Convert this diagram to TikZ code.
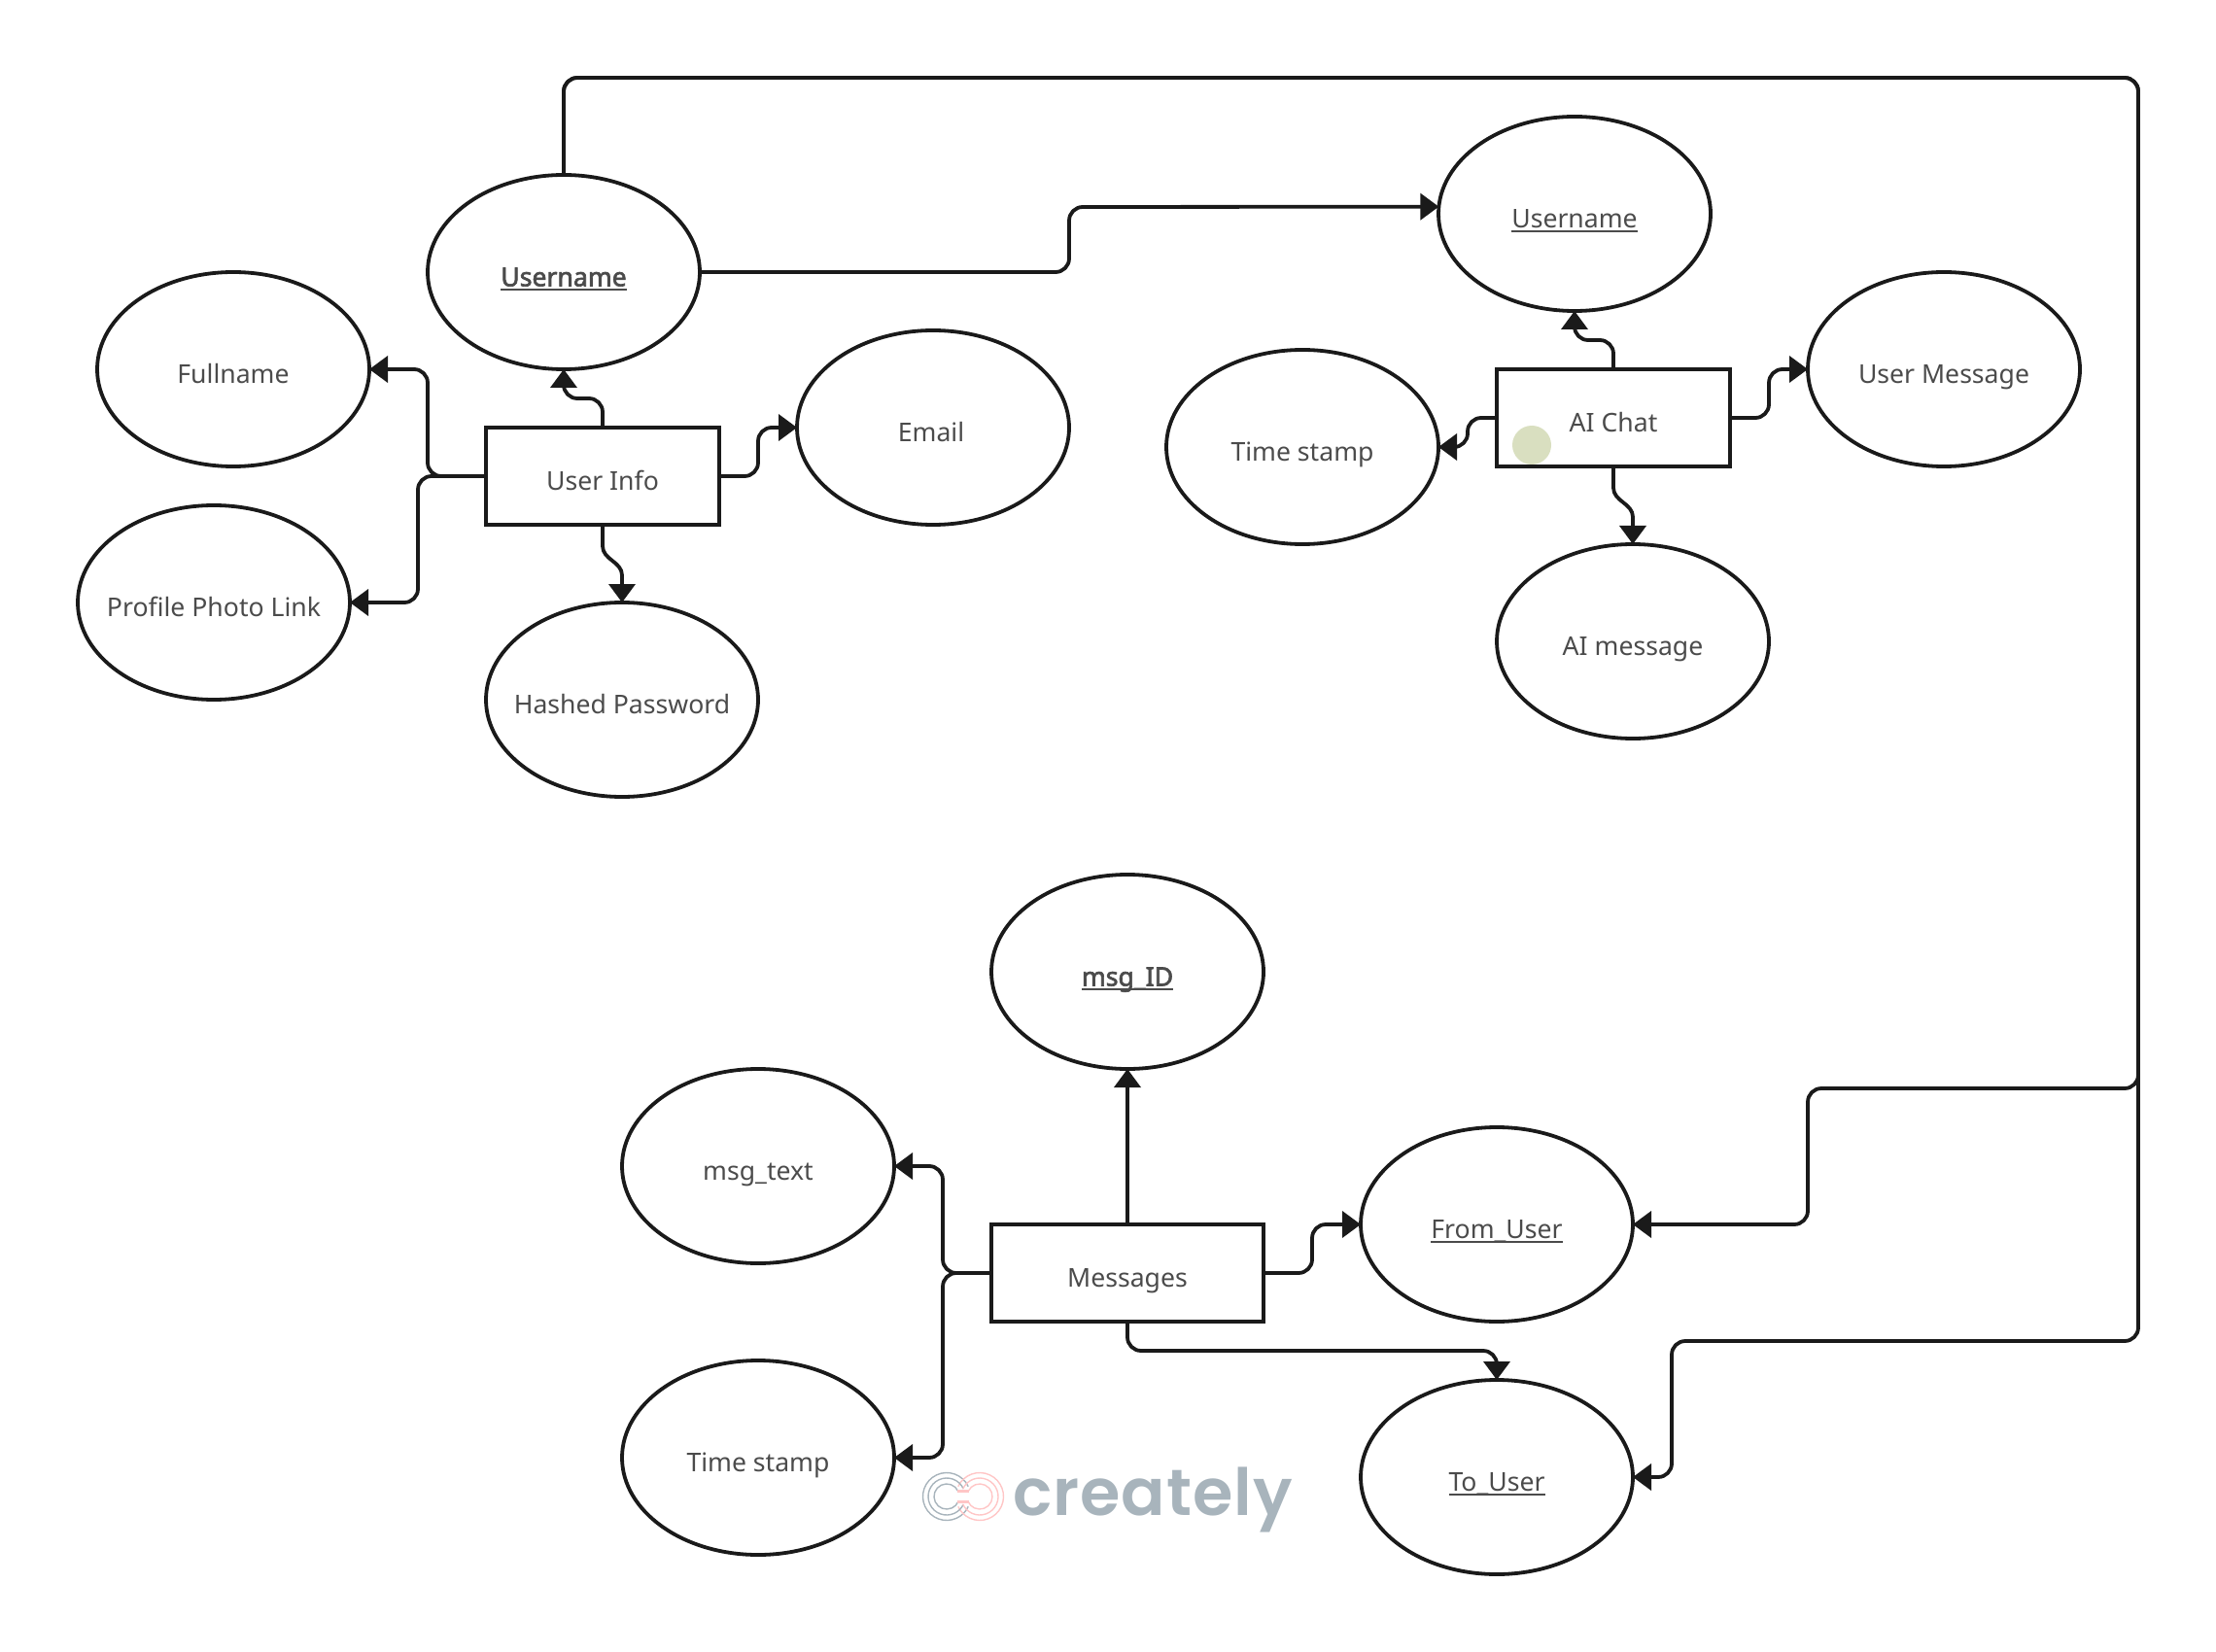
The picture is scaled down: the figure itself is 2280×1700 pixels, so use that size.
\documentclass[tikz,border=0pt]{standalone}
\usepackage{fontspec}
\setmainfont{Noto Sans}
\newfontfamily\keyfont[FakeBold=2.5]{Noto Sans}
\newfontfamily\brandfont[LetterSpace=1.5]{Poppins SemiBold}
\usetikzlibrary{arrows.meta,shapes.geometric}
\definecolor{inkline}{HTML}{1A1A1A}
\definecolor{inktext}{HTML}{4B4B4B}
\definecolor{brandgray}{HTML}{A8B4BC}
\definecolor{brandpink}{HTML}{FFC6C6}
\definecolor{dotgreen}{HTML}{D9DFC0}
\newlength\keywd
\newcommand{\keyline}[1]{\settowidth{\keywd}{#1}\rlap{\rule[-2.1pt]{\keywd}{0.8pt}}#1}
\begin{document}
\begin{tikzpicture}[
  x=0.5pt,y=-0.5pt,
  every node/.style={text=inktext,font=\fontsize{13.3}{15}\selectfont,inner sep=0pt,outer sep=0pt,
                     text height=14.5pt,text depth=0pt},
  attr/.style={ellipse,draw=inkline,line width=1.9pt,minimum width=140pt,minimum height=100pt,
               inner xsep=-10pt},
  ent/.style={rectangle,draw=inkline,line width=1.9pt,minimum height=50pt},
  conn/.style={draw=inkline,line width=1.9pt,rounded corners=7pt,line join=round,
               -{Triangle[length=9.5pt,width=13.5pt]}},
  wave/.style={conn,sharp corners}
  ]
  \useasboundingbox (0,0) rectangle (2280,1700);
  % user info
  \node [ent,minimum width=120pt] (userinfo) at (620,490) {User Info};
  \node [attr] (username) at (580,280) {\keyfont\keyline{Username}};
  \node [attr] (fullname) at (240,380) {Fullname};
  \node [attr] (photo) at (220,620) {Profile Photo Link};
  \node [attr] (email) at (960,440) {\hspace{-2pt}Email};
  \node [attr] (password) at (640,720) {Hashed Password};
  % ai chat
  \node [ent,minimum width=120pt] (aichat) at (1660,430) {AI Chat};
  \node [attr] (chatuser) at (1620,220) {\keyline{Username}};
  \node [attr] (usermsg) at (2000,380) {User Message};
  \node [attr] (chattime) at (1340,460) {Time stamp};
  \node [attr] (aimsg) at (1680,660) {AI message};
  \node [circle,fill=dotgreen,minimum size=20pt,text height=0pt] (dot) at (1576,458) {};
  % messages
  \node [ent,minimum width=140pt] (messages) at (1160,1310) {Messages};
  \node [attr] (msgid) at (1160,1000) {\keyfont\keyline{msg\_ID}};
  \node [attr] (msgtext) at (780,1200) {msg\_text};
  \node [attr] (msgtime) at (780,1500) {Time stamp};
  \node [attr] (fromuser) at (1540,1260) {\keyline{From\_User}};
  \node [attr] (touser) at (1540,1520) {\keyline{To\_User}};

  \draw [conn] (userinfo.north) -- ++(0,-30) -| (username.south);
  \draw [conn] (userinfo.west) -| (440,380) -- (fullname.east);
  \draw [conn] (userinfo.west) -| (430,620) -- (photo.east);
  \draw [conn] (userinfo.east) -| (780,440) -- (email.west);
  \draw [wave] (userinfo.south) -- ++(0,22) .. controls +(0,14) and +(0,-14) .. ++(20,30) -- (password.north);

  \draw [conn] (aichat.north) -- ++(0,-30) -| (chatuser.south);
  \draw [conn] (aichat.east) -| (1820,380) -- (usermsg.west);
  \draw [conn] (aichat.west) -| (1510,460) -- (chattime.east);
  \draw [wave] (aichat.south) -- ++(0,22) .. controls +(0,14) and +(0,-14) .. ++(20,30) -- (aimsg.north);

  \draw [conn] (messages.north) -- (msgid.south);
  \draw [conn] (messages.west) -| (970,1200) -- (msgtext.east);
  \draw [conn] (messages.west) -| (970,1500) -- (msgtime.east);
  \draw [conn] (messages.east) -| (1350,1260) -- (fromuser.west);
  \draw [conn] (messages.south) |- (1540,1390) -- (touser.north);

  % keys across the tables
  \draw [conn] (username.east) -| (1100,213) -- (chatuser.177);
  \draw [conn] (username.north) |- (2200,80) |- (1860,1120) |- (fromuser.east);
  \draw [conn] (username.north) |- (2200,80) |- (1720,1380) |- (touser.east);

  % watermark
  \node [anchor=base west,text=brandgray,font=\brandfont\fontsize{33.5}{34}\selectfont,
         text height=0pt] (brand) at (1042,1559) {creately};
  \foreach \r in {24.5,19,13} {
    \draw [brandgray,line width=0.7pt] (974,1540) ++(25:\r*0.5pt) arc [start angle=25,end angle=335,radius=\r*0.5pt];
    \draw [brandpink,line width=0.7pt] (1008,1540) ++(155:\r*0.5pt) arc [start angle=155,end angle=-155,radius=\r*0.5pt];
  }
  \fill [brandpink] (985,1533) rectangle (997,1536);
  \fill [brandpink] (985,1544) rectangle (997,1547);
\end{tikzpicture}
\end{document}
